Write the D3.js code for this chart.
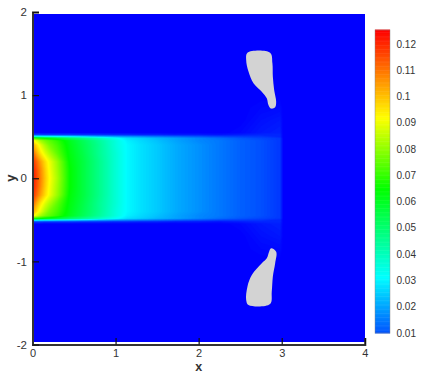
<!DOCTYPE html>
<html>
<head>
<meta charset="utf-8">
<title>Contour plot</title>
<script src="https://d3js.org/d3.v7.min.js"></script>
<style>
  html, body { margin: 0; padding: 0; background: #fff; }
  svg { display: block; font-family: "Liberation Sans", Arial, sans-serif; }
  text { fill: #333; }
</style>
</head>
<body>
<svg id="chart" width="423" height="376"></svg>
<script>
// x stations of the field
var xStations = [0, .05, .1, .15, .2, .3, .45, .6, .8, 1, 1.14, 1.3, 1.5, 1.75, 2, 2.25, 2.5, 2.75, 2.98, 3.02, 4];
// y stations, upper half only. lower half is the mirror
var yStations = [0, .1, .2, .3, .4, .45, .48, .5, .52, .55, .7, .85, 1, 2];
// values, one row per y station
var row00 = [.124, .116, .108, .100, .093, .083, .065, .057, .047, .037, .031, .028, .025, .021, .018, .015, .012, .010, .007, 0, 0];
var row10 = [.123, .115, .107, .099, .092, .082, .065, .057, .047, .037, .031, .028, .025, .021, .018, .015, .012, .010, .007, 0, 0];
var row20 = [.120, .112, .104, .097, .091, .081, .064, .057, .047, .037, .031, .028, .025, .021, .018, .015, .012, .010, .007, 0, 0];
var row30 = [.113, .103, .095, .089, .084, .075, .063, .056, .046, .037, .031, .028, .025, .021, .018, .015, .012, .010, .007, 0, 0];
var row40 = [.104, .096, .089, .083, .078, .072, .062, .055, .046, .036, .031, .028, .025, .021, .018, .015, .012, .010, .007, 0, 0];
var row45 = [.095, .088, .082, .078, .075, .070, .061, .054, .045, .036, .030, .027, .024, .020, .017, .015, .012, .010, .007, 0, 0];
var row48 = [.070, .068, .066, .064, .062, .058, .052, .047, .040, .033, .028, .026, .023, .020, .017, .014, .011, .009, .007, 0, 0];
var row50 = [.035, .034, .033, .032, .032, .030, .028, .026, .022, .020, .018, .017, .015, .013, .011, .009, .008, .007, .005, 0, 0];
var row52 = [.009, .009, .009, .008, .008, .008, .008, .007, .007, .006, .006, .005, .005, .004, .004, .003, .004, .005, .005, 0, 0];
var row55 = [0, 0, 0, 0, 0, 0, 0, 0, 0, 0, 0, 0, 0, 0, 0, 0, .001, .003, .004, 0, 0];
var row70 = [0, 0, 0, 0, 0, 0, 0, 0, 0, 0, 0, 0, 0, 0, 0, 0, 0, .002, .003, 0, 0];
var row85 = [0, 0, 0, 0, 0, 0, 0, 0, 0, 0, 0, 0, 0, 0, 0, 0, 0, .001, .0015, 0, 0];
var row100 = [0, 0, 0, 0, 0, 0, 0, 0, 0, 0, 0, 0, 0, 0, 0, 0, 0, 0, 0, 0, 0];
var row200 = [0, 0, 0, 0, 0, 0, 0, 0, 0, 0, 0, 0, 0, 0, 0, 0, 0, 0, 0, 0, 0];
var halfRows = [row00, row10, row20, row30, row40, row45, row48, row50, row52, row55, row70, row85, row100, row200];

// grey blanked regions, [x, y]
var holeTop = [[2.587, 1.511], [2.860, 1.511], [2.888, 1.384], [2.893, 1.223], [2.909, 1.063], [2.933, .922], [2.921, .854], [2.872, .838], [2.840, .882], [2.820, .963], [2.760, 1.042], [2.660, 1.143], [2.600, 1.283], [2.572, 1.424]];
var holeBottom = [[2.872, -.842], [2.933, -.883], [2.921, -1.023], [2.893, -1.184], [2.880, -1.365], [2.860, -1.513], [2.600, -1.525], [2.572, -1.464], [2.587, -1.304], [2.640, -1.164], [2.760, -1.023], [2.820, -.963], [2.848, -.883]];

// colour map stops
var colourStops = [0, .0313, .0647, .092, .1253];
var colourNames = ["#0000ff", "#00ffff", "#00ff00", "#ffff00", "#ff0000"];
var barTicks = [.01, .02, .03, .04, .05, .06, .07, .08, .09, .1, .11, .12];
var xTicks = [0, 1, 2, 3, 4];
var yTicks = [-2, -1, 0, 1, 2];

var svg = d3.select("#chart");
var x = d3.scaleLinear().domain([0, 4]).range([32.5, 364.8]);
var y = d3.scaleLinear().domain([-2, 2]).range([344.5, 12]);
var color = d3.scaleLinear().domain(colourStops).range(colourNames);

// mirror the rows so the grid runs from y=-2 to y=2
var ys = yStations.slice(1).reverse().map(function(d) { return -d; }).concat(yStations);
var rows = halfRows.slice(1).reverse().concat(halfRows);
var values = [];
rows.forEach(function(r) { r.forEach(function(v) { values.push(v); }); });

// grid index -> pixel. d3.contours puts grid nodes at index + .5
var xAt = d3.scaleLinear().domain(d3.range(xStations.length)).range(xStations).clamp(true);
var yAt = d3.scaleLinear().domain(d3.range(ys.length)).range(ys).clamp(true);
var gridPath = d3.geoPath(d3.geoTransform({
  point: function(i, j) { this.stream.point(x(xAt(i - .5)), y(yAt(j - .5))); }
}));

var plotLeft = x(0) + 1.5, plotTop = y(2) + 2, plotRight = x(4) + .2, plotBottom = y(-2) - 2.5;
svg.append("clipPath").attr("id", "plotClip").append("rect")
  .attr("x", plotLeft).attr("y", plotTop)
  .attr("width", plotRight - plotLeft).attr("height", plotBottom - plotTop);

var plot = svg.append("g").attr("clip-path", "url(#plotClip)");
plot.append("rect")
  .attr("x", plotLeft).attr("y", plotTop)
  .attr("width", plotRight - plotLeft).attr("height", plotBottom - plotTop)
  .attr("fill", color(0));

var contours = d3.contours().size([xStations.length, ys.length])
  .thresholds(d3.range(.0005, .1253, .0005))(values);
plot.selectAll("path.band").data(contours).enter().append("path")
  .attr("class", "band")
  .attr("d", gridPath)
  .attr("fill", function(d) { return color(d.value); });

var holeLine = d3.line()
  .x(function(d) { return x(d[0]); })
  .y(function(d) { return y(d[1]); })
  .curve(d3.curveCatmullRomClosed);
plot.selectAll("path.hole").data([holeTop, holeBottom]).enter().append("path")
  .attr("class", "hole")
  .attr("d", holeLine)
  .attr("fill", "#d3d3d3");

// axes, ticks point inward
var minorX = d3.range(0, 4.01, .2), minorY = d3.range(-2, 2.01, .2);
var xG = svg.append("g").attr("transform", "translate(0," + y(-2) + ")");
xG.call(d3.axisBottom(x).tickValues(minorX).tickSize(-3).tickFormat(""));
xG.call(d3.axisBottom(x).tickValues(xTicks).tickSize(-6.5).tickFormat(String));
var yG = svg.append("g").attr("transform", "translate(" + x(0) + ",0)");
yG.call(d3.axisLeft(y).tickValues(minorY).tickSize(-3).tickFormat(""));
yG.call(d3.axisLeft(y).tickValues(yTicks).tickSize(-6.5).tickFormat(String));

svg.selectAll("g .domain").attr("stroke", "#333").attr("stroke-width", 2);
svg.selectAll("g .tick line").attr("stroke", "#111").attr("stroke-width", 1.2);
xG.selectAll("text").attr("y", 12.5).attr("dy", 0).attr("font-size", 11).attr("font-family", "Liberation Sans");
yG.selectAll("text").attr("x", -5.5).attr("font-size", 11.5).attr("font-family", "Liberation Sans");

svg.append("text").attr("x", x(2)).attr("y", 370.5).attr("text-anchor", "middle")
  .attr("font-size", 12.5).attr("font-weight", "bold").text("x");
svg.append("text").attr("transform", "translate(15," + y(0) + ") rotate(-90)")
  .attr("text-anchor", "middle").attr("font-size", 13).attr("font-weight", "bold").text("y");

// colour bar
var barY = d3.scaleLinear().domain([.01, .12]).range([333, 44]);
var barX = 375, barW = 15;
var barLevels = d3.range(.01, .1253, .0005);
svg.append("g").selectAll("rect").data(barLevels).enter().append("rect")
  .attr("x", barX).attr("width", barW)
  .attr("y", function(d) { return barY(d + .0005); })
  .attr("height", function(d) { return barY(d) - barY(d + .0005) + .5; })
  .attr("fill", function(d) { return color(d + .00025); });
svg.append("rect")
  .attr("x", barX).attr("y", barY(.1253)).attr("width", barW).attr("height", barY(.01) - barY(.1253))
  .attr("fill", "none").attr("stroke", "#888").attr("stroke-opacity", .45).attr("stroke-width", 1);
svg.append("g").selectAll("text").data(barTicks).enter().append("text")
  .attr("x", 396.5).attr("y", function(d) { return barY(d); }).attr("dy", ".35em")
  .attr("font-size", 10).text(function(d) { return d3.format("~g")(d); });
</script>
</body>
</html>
